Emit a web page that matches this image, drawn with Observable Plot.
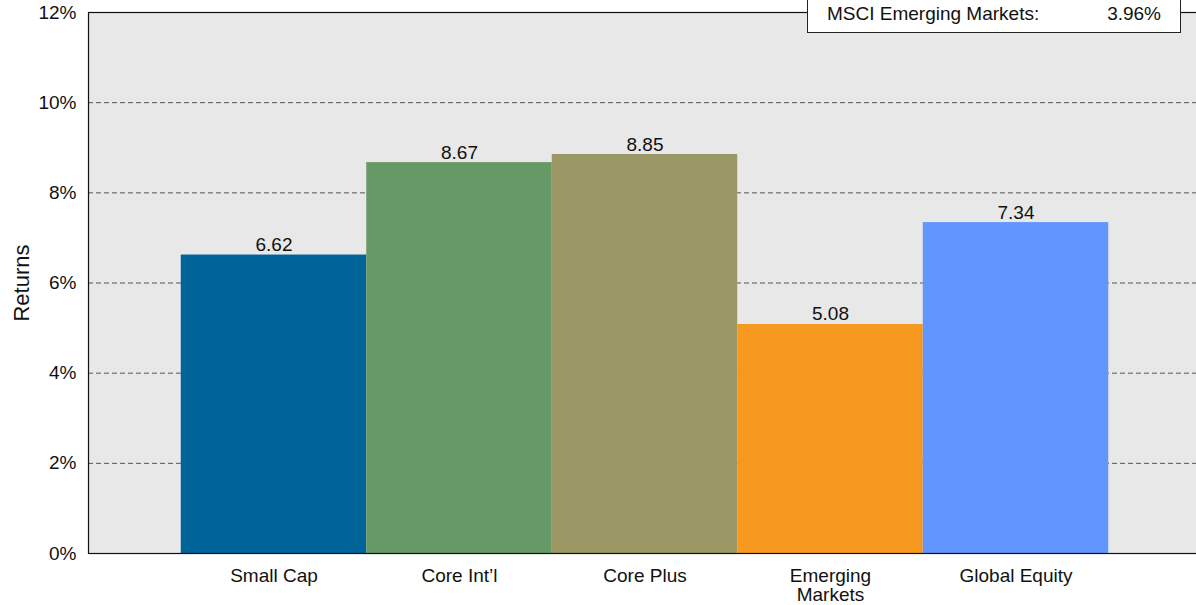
<!DOCTYPE html>
<html>
<head>
<meta charset="utf-8">
<script src="https://cdn.jsdelivr.net/npm/d3@7"></script>
<script src="https://cdn.jsdelivr.net/npm/@observablehq/plot@0.6"></script>
<style>
  html, body { margin: 0; padding: 0; background: #fff; overflow: hidden; width: 1196px; height: 605px; }
  #wrap { position: relative; width: 1196px; height: 605px; overflow: hidden; font-family: "Liberation Sans", Arial, sans-serif; }
  #chart svg { max-width: none !important; }
  #legend { position: absolute; left: 807px; top: -18px; width: 374px; height: 51px; background: #fff; border: 1.5px solid #222; box-sizing: border-box; font-size: 19px; color: #111; }
  #legend span.k { position: absolute; left: 19px; bottom: 7px; }
  #legend span.v { position: absolute; right: 19px; bottom: 7px; }
</style>
</head>
<body>
<div id="wrap">
  <div id="chart"></div>
  <div id="legend"><span class="k"></span><span class="v"></span></div>
</div>
<script>
const categories = ["Small Cap", "Core Int\u2019l", "Core Plus", "Emerging\nMarkets", "Global Equity"];
const returns = [6.62, 8.67, 8.85, 5.08, 7.34];
const colors = ["#006499", "#679966", "#9b9866", "#f7991f", "#6196ff"];
const yTicks = [0, 2, 4, 6, 8, 10, 12];
const yTitle = "Returns";
const legendLabel = "MSCI Emerging Markets:";
const legendValue = "3.96%";

const data = categories.map((c, i) => ({category: c, value: returns[i], color: colors[i]}));

const chart = Plot.plot({
  width: 1201,
  height: 605,
  marginTop: 12,
  marginBottom: 52,
  marginLeft: 88,
  marginRight: 0,
  style: {fontFamily: "Liberation Sans, Arial, sans-serif", fontSize: "19px", color: "#111", background: "transparent", maxWidth: "none"},
  x: {domain: categories, paddingInner: 0, paddingOuter: 0.5, round: false, label: null},
  y: {domain: [0, 12], label: null},
  marks: [
    Plot.frame({fill: "#e8e8e8", stroke: null}),
    Plot.gridY(yTicks.filter(t => t > 0 && t < 12), {stroke: "#555", strokeOpacity: 1, strokeWidth: 1, strokeDasharray: "5,3"}),
    Plot.barY(data, {x: "category", y: "value", fill: "color"}),
    Plot.text(data, {x: "category", y: "value", text: d => d.value.toFixed(2), lineAnchor: "bottom", dy: -4, fontSize: 19, fill: "#111"}),
    Plot.frame({stroke: "#111", strokeWidth: 1.2}),
    Plot.axisY({ticks: yTicks, tickFormat: d => d + "%", tickSize: 0, tickPadding: 12, fontSize: 19, label: null}),
    Plot.text([yTitle], {frameAnchor: "left", text: d => d, rotate: -90, dx: -60, lineAnchor: "bottom", textAnchor: "middle", fontSize: 22, fill: "#111"}),
    Plot.axisX({tickSize: 0, tickPadding: 15, fontSize: 19, lineHeight: 1, label: null})
  ]
});
document.getElementById("chart").appendChild(chart);
document.querySelector("#legend .k").textContent = legendLabel;
document.querySelector("#legend .v").textContent = legendValue;
</script>
</body>
</html>
